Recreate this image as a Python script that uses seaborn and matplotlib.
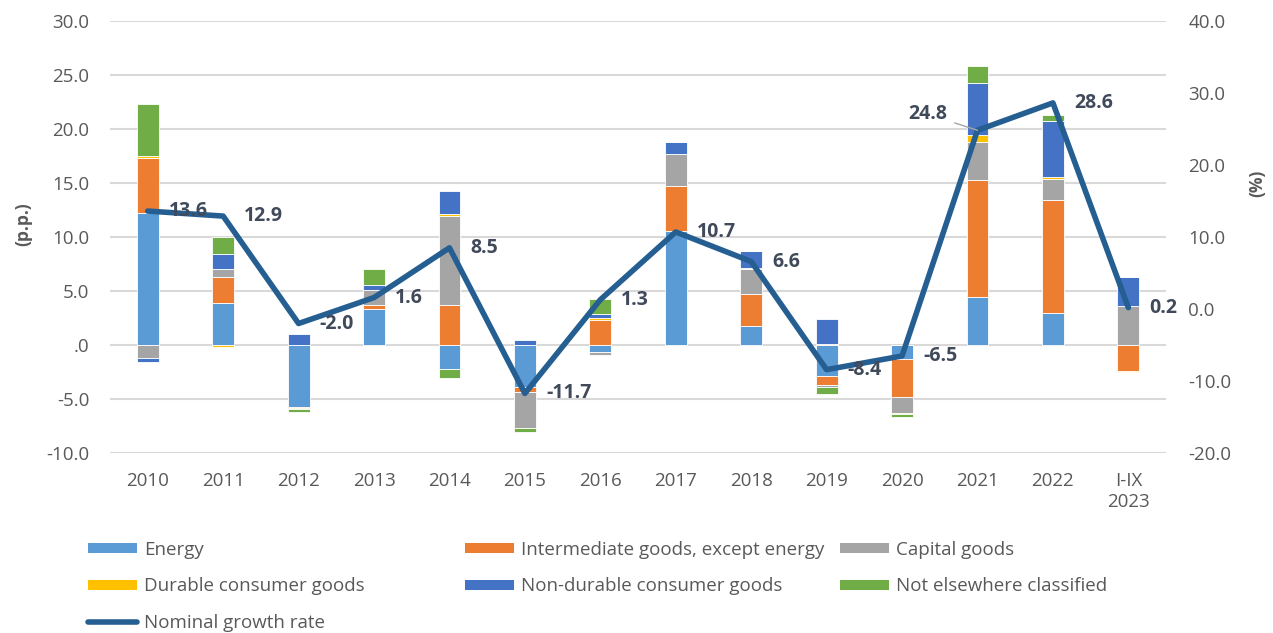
import numpy as np
import pandas as pd
import matplotlib
matplotlib.use("Agg")
import matplotlib.pyplot as plt
import seaborn as sns
from matplotlib.patches import Patch
from matplotlib.lines import Line2D

# contributions to import growth (p.p.) and nominal growth rate (%)
years = ["2010", "2011", "2012", "2013", "2014", "2015", "2016",
         "2017", "2018", "2019", "2020", "2021", "2022", "I-IX\n2023"]
energy = [12.25, 3.93, -5.7, 3.32, -2.16, -3.9, -0.68, 10.55, 1.78, -2.83, -1.24, 4.46, 2.95, 0.0]
intermediate = [5.07, 2.37, -0.1, 0.37, 3.7, -0.45, 2.33, 4.15, 2.98, -0.86, -3.53, 10.8, 10.47, -2.4]
capital = [-1.2, 0.7, -0.05, 1.4, 8.24, -3.3, -0.25, 3.0, 2.25, -0.2, -1.48, 3.5, 1.9, 3.63]
durable = [0.15, -0.15, -0.1, 0.05, 0.2, 0.0, 0.22, 0.0, 0.15, 0.1, -0.15, 0.7, 0.25, -0.1]
non_durable = [-0.4, 1.4, 1.0, 0.46, 2.15, 0.49, 0.3, 1.1, 1.55, 2.34, 0.0, 4.77, 5.15, 2.67]
not_classified = [4.8, 1.6, -0.25, 1.48, -0.9, -0.35, 1.45, 0.0, 0.0, -0.6, -0.28, 1.55, 0.6, 0.0]
growth = [13.6, 12.9, -2.0, 1.6, 8.5, -11.7, 1.3, 10.7, 6.6, -8.4, -6.5, 24.8, 28.6, 0.2]

series = ["Energy", "Intermediate goods, except energy", "Capital goods",
          "Durable consumer goods", "Non-durable consumer goods", "Not elsewhere classified"]
colors = ["#5B9BD5", "#ED7D31", "#A5A5A5", "#FFC000", "#4472C4", "#70AD47"]
line_color = "#255E91"
text_color = "#595959"
label_color = "#404A5A"

df = pd.DataFrame(dict(zip(series, [energy, intermediate, capital, durable,
                                    non_durable, not_classified])), index=years)

sns.set_theme(style="white")
plt.rcParams["font.family"] = ["Open Sans", "DejaVu Sans"]

fig = plt.figure(figsize=(12.73, 6.33), dpi=100)
ax = fig.add_axes([0.0864, 0.2839, 0.8296, 0.6834])

x = np.arange(len(years))
pos_base = np.zeros(len(years))
neg_base = np.zeros(len(years))
for name, col in zip(series, colors):
    v = df[name].to_numpy()
    base = np.where(v >= 0, pos_base, neg_base)
    ax.bar(x, v, bottom=base, width=0.29, color=col, edgecolor="white",
           linewidth=0.6, zorder=2)
    pos_base += np.clip(v, 0, None)
    neg_base += np.clip(v, None, 0)

ax.set_ylim(-10, 30)
yt = np.arange(-10, 31, 5)
ax.set_yticks(yt)
ax.set_yticklabels([".0" if t == 0 else f"{t:.1f}" for t in yt])
ax.yaxis.grid(True, color="#D9D9D9", linewidth=1.5)
ax.set_axisbelow(True)
ax.tick_params(axis="y", length=0, pad=15, labelsize=13.5, labelcolor=text_color)
ax.tick_params(axis="x", length=0, pad=13.5, labelsize=13.5, labelcolor=text_color)
ax.set_ylabel("(p.p.)", fontsize=12.5, fontweight="bold", color=text_color)
ax.yaxis.set_label_coords(-0.074, 0.53)
sns.despine(ax=ax, left=True, bottom=True)

ax2 = ax.twinx()
sns.lineplot(x=x, y=growth, ax=ax2, color=line_color, linewidth=4,
             solid_capstyle="round", zorder=3)
ax2.set_ylim(-20, 40)
yt2 = np.arange(-20, 41, 10)
ax2.set_yticks(yt2)
ax2.set_yticklabels([f"{t:.1f}" for t in yt2])
ax2.tick_params(axis="y", length=0, pad=16, labelsize=13.5, labelcolor=text_color)
ax2.set_ylabel("(%)", fontsize=12.5, fontweight="bold", color=text_color)
ax2.yaxis.set_label_coords(1.078, 0.625)
ax2.grid(False)
for s in ax2.spines.values():
    s.set_visible(False)

ax.set_xlim(-0.5, len(years) - 0.5)
ax.set_xticks(x)
ax.set_xticklabels(years)

for i, v in enumerate(growth):
    if years[i] == "2021":
        ax2.annotate(f"{v:.1f}", (x[i], v), xytext=(-30, 16), textcoords="offset pixels",
                     ha="right", va="center", fontsize=14, fontweight="bold",
                     color=label_color,
                     arrowprops=dict(arrowstyle="-", color="#A6A6A6", lw=1,
                                     shrinkA=3, shrinkB=0))
    else:
        ax2.annotate(f"{v:.1f}", (x[i], v), xytext=(21, 0), textcoords="offset pixels",
                     ha="left", va="center", fontsize=14, fontweight="bold",
                     color=label_color)

# legend laid out in three columns, row-wise like the original
h = [Patch(facecolor=c, edgecolor="none") for c in colors]
line_h = Line2D([0], [0], color=line_color, linewidth=4, solid_capstyle="round")
cols = [([h[0], h[3], line_h], [series[0], series[3], "Nominal growth rate"], 0.0691),
        ([h[1], h[4]], [series[1], series[4]], 0.3653),
        ([h[2], h[5]], [series[2], series[5]], 0.6599)]
for handles, labels, xpos in cols:
    fig.legend(handles, labels, loc="upper left", bbox_to_anchor=(xpos, 0.146),
               frameon=False, fontsize=13.5, handlelength=2.6, handleheight=0.45,
               handletextpad=0.4, labelspacing=1.0, borderpad=0, borderaxespad=0,
               labelcolor=text_color)

fig.savefig("out.png", dpi=100)
